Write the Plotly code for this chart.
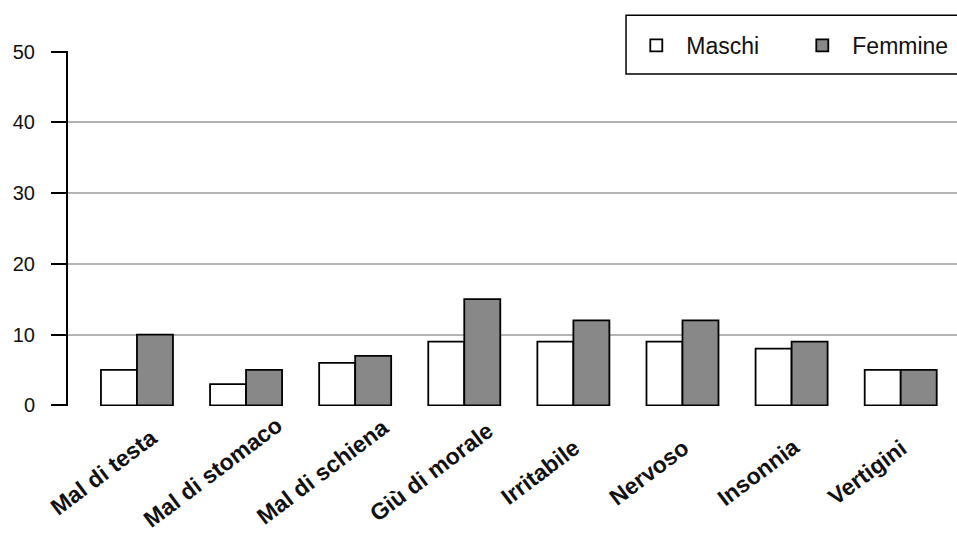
import plotly.graph_objects as go

categories = ["Mal di testa", "Mal di stomaco", "Mal di schiena", "Giù di morale",
              "Irritabile", "Nervoso", "Insonnia", "Vertigini"]
maschi = [5, 3, 6, 9, 9, 9, 8, 5]
femmine = [10, 5, 7, 15, 12, 12, 9, 5]
y_ticks = [0, 10, 20, 30, 40, 50]

FONT = "Liberation Sans, Arial, sans-serif"
TXT = "#111111"

fig = go.Figure()
fig.add_trace(go.Bar(name="Maschi", x=categories, y=maschi,
                     marker=dict(color="white", line=dict(color="black", width=1.8))))
fig.add_trace(go.Bar(name="Femmine", x=categories, y=femmine,
                     marker=dict(color="#888888", line=dict(color="black", width=1.8))))

# legend frame
fig.add_shape(type="rect", xref="paper", yref="paper", x0=0.6277, x1=1.05, y0=0.935, y1=1.101,
              fillcolor="white", line=dict(color="black", width=1.5), layer="above")

# rotated category labels, centred below each category
for c in categories:
    fig.add_annotation(x=c, xref="x", y=0, yref="y", text=c, showarrow=False,
                       textangle=-37, xanchor="center", yanchor="middle",
                       xshift=-33, yshift=-67,
                       font=dict(size=23, family=FONT, color=TXT, weight="bold"))

fig.update_layout(
    width=957, height=538,
    margin=dict(l=68, r=0, t=51, b=132, autoexpand=False),
    paper_bgcolor="white", plot_bgcolor="white",
    barmode="group", bargap=0.34, bargroupgap=0,
    font=dict(family=FONT, color=TXT),
    showlegend=True,
    legend=dict(orientation="h", x=0.628, xanchor="left", y=1.0155, yanchor="middle",
                bgcolor="rgba(0,0,0,0)", borderwidth=0, itemwidth=50,
                font=dict(size=23), entrywidth=101, entrywidthmode="pixels"),
    xaxis=dict(range=[-0.632, 7.516], showgrid=False, showline=False, ticks="",
               showticklabels=False, automargin=False),
    yaxis=dict(range=[-0.1, 50.1], tickvals=y_ticks, showgrid=True, gridcolor="#b4b4b4",
               gridwidth=1.5, showline=True, linecolor="black", linewidth=2,
               ticks="outside", ticklen=15, tickwidth=2, tickcolor="black",
               ticklabelstandoff=12,
               tickfont=dict(size=20), zeroline=False, automargin=False),
)
fig.write_html("out.html", config={"displayModeBar": False},
               post_script="document.body.style.margin='0';")
